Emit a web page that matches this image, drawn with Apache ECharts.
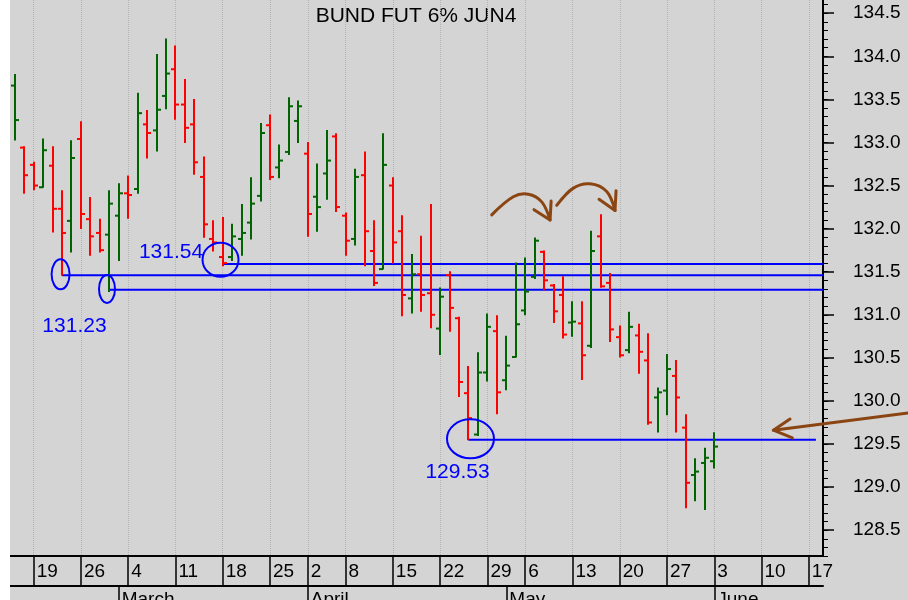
<!DOCTYPE html>
<html><head><meta charset="utf-8">
<script src="https://cdn.jsdelivr.net/npm/echarts@6/dist/echarts.min.js"></script>
<style>
html,body{margin:0;padding:0;background:#ffffff;width:908px;height:600px;overflow:hidden;}
#chart{position:absolute;left:10px;top:0;width:898px;height:600px;}
</style></head><body><div id="chart"></div>
<script>
// ---------- data ----------
const chartTitle = 'BUND FUT 6% JUN4';
const slotCount = 86; // trading-day slots on the x axis (bars fill the first 75)
const opens  = [133.66,132.94,132.74,132.48,132.73,132.23,132.09,133.04,132.11,131.95,131.93,132.15,132.41,132.46,133.21,133.14,133.54,133.85,133.44,133.21,132.60,131.88,131.67,131.67,131.88,132.07,132.38,133.20,132.71,132.89,133.25,132.87,132.37,132.64,133.07,132.15,131.88,132.62,131.74,131.53,132.50,131.97,131.19,131.47,131.25,130.84,131.46,130.96,130.09,129.61,130.33,130.81,130.24,130.51,131.05,131.44,131.73,131.34,131.23,130.91,130.90,130.64,131.91,131.37,130.74,130.59,130.76,130.47,130.04,130.12,130.29,129.69,129.14,129.28,129.30];
const highs  = [133.79,132.95,132.77,133.04,132.95,132.44,133.02,133.24,132.36,132.11,132.44,132.52,132.61,133.57,133.37,134.02,134.20,134.12,133.73,133.50,132.83,132.09,132.13,132.05,132.28,132.59,133.22,133.32,132.97,133.52,133.48,133.00,132.75,133.14,133.10,132.18,132.69,132.89,132.09,133.10,132.59,132.15,131.70,131.91,132.28,131.31,131.50,130.97,130.40,130.56,131.01,130.99,130.75,131.60,131.66,131.89,131.74,131.35,131.44,131.15,131.15,131.97,132.16,131.48,130.87,131.03,130.89,130.78,130.15,130.54,130.47,129.84,129.33,129.45,129.63];
const lows   = [133.03,132.41,132.45,132.48,131.96,131.46,131.73,132.00,131.69,131.73,131.27,131.63,132.12,132.41,132.82,132.90,133.39,133.27,133.00,132.63,131.90,131.74,131.57,131.63,131.69,131.88,132.32,132.57,132.59,132.86,133.00,131.91,131.97,132.34,132.20,131.69,131.81,131.57,131.34,131.53,131.60,130.99,131.02,131.04,130.85,130.54,130.81,130.05,129.55,129.60,130.23,129.85,130.13,130.51,131.00,131.42,131.29,130.91,130.73,130.75,130.25,130.62,131.32,130.69,130.51,130.56,130.32,129.73,129.64,129.84,129.64,128.76,128.84,128.74,129.22];
const closes = [133.26,132.62,132.50,132.91,132.23,131.95,132.82,132.17,131.91,131.75,132.29,132.41,132.39,133.34,133.11,133.38,133.80,133.44,133.17,132.77,132.05,131.84,131.60,131.91,131.95,132.29,133.11,132.60,132.79,133.42,133.42,132.17,132.25,132.79,132.25,131.86,132.60,131.97,131.37,132.74,131.84,131.23,131.47,131.23,131.00,131.21,131.08,130.22,129.80,130.33,130.86,130.10,130.41,130.89,131.27,131.86,131.40,131.04,130.77,130.92,130.53,131.74,131.33,130.83,130.53,130.86,130.57,129.75,130.10,130.37,130.04,129.05,129.18,129.34,129.47];

const weekLabels  = ['19','26','4','11','18','25','2','8','15','22','29','6','13','20','27','3','10','17'];
const weekSlots   = [2,7,12,17,22,27,31,35,40,45,50,54,59,64,69,74,79,84];
const monthLabels = ['March','April','May','June'];
const monthSlots  = [11,31,52,74];
const priceTicks  = [128.5,129.0,129.5,130.0,130.5,131.0,131.5,132.0,132.5,133.0,133.5,134.0,134.5];

// annotations (data space: slot index, price)
const levelStarts = [[5,131.46],[10,131.29],[22,131.59],[48,129.55]];
const levelEnds   = [85.5,85.5,85.5,84.75];
const circleCenters = [[4.85,131.47],[9.76,131.30],[21.77,131.64],[48.21,129.56]];
const noteTexts  = ['131.23','131.54','129.53'];
const notePoints = [[6.32,130.87],[16.53,131.73],[46.84,129.17]];
const arrowPaths = [
  [[50.46,132.16],[52.74,132.37],[54.33,132.40],[55.75,132.31],[56.63,132.10]],
  [[57.33,132.27],[59.09,132.47],[60.86,132.52],[62.62,132.43],[63.50,132.21]],
  [[94.50,129.86],[80.25,129.66]]
];
const arrowWings = [
  [[54.93,132.22],[56.74,132.32]],
  [[61.81,132.34],[63.61,132.44]],
  [[82.01,129.79],[82.26,129.57]]
];

// ---------- styles ----------
const FONT = '"Liberation Sans", Arial, sans-serif';
const UP = '#006400', DOWN = '#ff0000', BLUE = '#0000ff', BROWN = '#8b4513';
const circleRadii = [[9,15],[8,14],[18,17],[23.5,19.5]];

// ---------- build ----------
const cats = Array.from({length: slotCount}, (_, i) => 'd' + i);
const weekText = {}; weekSlots.forEach((s, k) => weekText[s] = weekLabels[k]);
const monthText = {}; monthSlots.forEach((s, k) => monthText[s] = monthLabels[k]);
const isWeek = (i) => weekText[i] !== undefined;
const isMonth = (i) => monthText[i] !== undefined;

const ohlc = opens.map((o, i) => [i, o, highs[i], lows[i], closes[i],
  (i === 0 || closes[i] >= closes[i - 1]) ? 1 : -1]);

const chart = echarts.init(document.getElementById('chart'), null, {renderer: 'canvas'});
const option = {
  animation: false,
  backgroundColor: '#d4d4d4',
  textStyle: {fontFamily: FONT},
  graphic: [{
    type: 'text', x: 406, y: 16,
    style: {text: chartTitle, fill: '#000', fontSize: 21, fontFamily: FONT, align: 'center', verticalAlign: 'middle'}
  }],
  grid: {left: 0, right: 85, top: -4, bottom: 44, containLabel: false, outerBoundsMode: 'none'},
  xAxis: [
    {type: 'value', min: -0.5, max: 85.5, show: false, axisLine: {onZero: false}},
    {type: 'category', data: cats, position: 'bottom', boundaryGap: true,
      axisLine: {show: true, onZero: false, lineStyle: {color: '#000', width: 2}},
      axisTick: {show: true, alignWithLabel: true, interval: (i) => isWeek(i), length: 30, lineStyle: {color: '#000', width: 1.5}},
      axisLabel: {show: true, interval: (i) => isWeek(i), formatter: (v, i) => weekText[i] || '',
        align: 'left', padding: [0, 0, 0, 3], margin: 6, color: '#000', fontSize: 19, fontFamily: FONT},
      splitLine: {show: true, alignWithLabel: true, interval: (i) => isWeek(i),
        lineStyle: {type: 'dotted', color: '#b4b4b4', width: 1}}
    },
    {type: 'category', data: cats, position: 'bottom', offset: 30, boundaryGap: true,
      axisLine: {show: true, onZero: false, lineStyle: {color: '#000', width: 2}},
      axisTick: {show: true, alignWithLabel: true, interval: (i) => isMonth(i), length: 14, lineStyle: {color: '#000', width: 1.5}},
      axisLabel: {show: true, interval: (i) => isMonth(i), formatter: (v, i) => monthText[i] || '',
        align: 'left', padding: [0, 0, 0, 3], margin: 4, color: '#000', fontSize: 19, fontFamily: FONT},
      splitLine: {show: false}
    }
  ],
  yAxis: [
    {type: 'value', position: 'right', min: 128.2, max: 134.7,
      axisLine: {show: true, onZero: false, lineStyle: {color: '#000', width: 2}},
      axisTick: {show: true, customValues: priceTicks, length: 11, lineStyle: {color: '#000', width: 1.5}},
      axisLabel: {show: true, customValues: priceTicks, formatter: (v) => v.toFixed(1), margin: 30,
        align: 'left', color: '#000', fontSize: 19, fontFamily: FONT},
      splitLine: {show: false}
    },
    {type: 'value', position: 'right', min: 128.2, max: 134.7, interval: 0.1,
      axisLine: {show: false, onZero: false},
      axisTick: {show: true, length: 5, lineStyle: {color: '#000', width: 1}},
      axisLabel: {show: false}, splitLine: {show: false}
    }
  ],
  series: [
    { // level lines
      type: 'custom', xAxisIndex: 0, yAxisIndex: 0, silent: true, clip: false,
      data: levelStarts.map((p, i) => [p[0], p[1], levelEnds[i]]),
      encode: {x: [0, 2], y: 1},
      renderItem: (params, api) => {
        const a = api.coord([api.value(0), api.value(1)]);
        const b = api.coord([api.value(2), api.value(1)]);
        return {type: 'line', shape: {x1: a[0], y1: a[1], x2: b[0], y2: b[1]},
          style: {stroke: BLUE, lineWidth: 2}};
      }
    },
    { // OHLC bars
      type: 'custom', xAxisIndex: 0, yAxisIndex: 0, silent: true,
      data: ohlc, encode: {x: 0, y: [1, 2, 3, 4]},
      renderItem: (params, api) => {
        const x = api.value(0);
        const pH = api.coord([x, api.value(2)]);
        const pL = api.coord([x, api.value(3)]);
        const pO = api.coord([x, api.value(1)]);
        const pC = api.coord([x, api.value(4)]);
        const col = api.value(5) > 0 ? UP : DOWN;
        const cx = Math.round(pH[0]);
        const st = {stroke: col, lineWidth: 2};
        return {type: 'group', children: [
          {type: 'line', shape: {x1: cx, y1: pH[1] - 0.5, x2: cx, y2: pL[1] + 0.5}, style: st},
          {type: 'line', shape: {x1: cx - 4, y1: pO[1], x2: cx, y2: pO[1]}, style: st},
          {type: 'line', shape: {x1: cx, y1: pC[1], x2: cx + 4, y2: pC[1]}, style: st}
        ]};
      }
    },
    { // circles
      type: 'custom', xAxisIndex: 0, yAxisIndex: 0, silent: true, clip: false,
      data: circleCenters, encode: {x: 0, y: 1},
      renderItem: (params, api) => {
        const c = api.coord([api.value(0), api.value(1)]);
        const r = circleRadii[params.dataIndex];
        return {type: 'ellipse', shape: {cx: c[0], cy: c[1], rx: r[0], ry: r[1]},
          style: {fill: 'none', stroke: BLUE, lineWidth: 2}};
      }
    },
    { // note texts
      type: 'custom', xAxisIndex: 0, yAxisIndex: 0, silent: true, clip: false,
      data: notePoints, encode: {x: 0, y: 1},
      renderItem: (params, api) => {
        const c = api.coord([api.value(0), api.value(1)]);
        return {type: 'text', x: c[0], y: c[1],
          style: {text: noteTexts[params.dataIndex], fill: BLUE, fontSize: 21, fontFamily: FONT,
            align: 'center', verticalAlign: 'middle'}};
      }
    },
    { // arrows
      type: 'custom', xAxisIndex: 0, yAxisIndex: 0, silent: true, clip: false,
      data: arrowPaths.map(p => p[p.length - 1]), encode: {x: 0, y: 1},
      renderItem: (params, api) => {
        const path = arrowPaths[params.dataIndex].map(p => api.coord(p));
        const wings = arrowWings[params.dataIndex].map(p => api.coord(p));
        const tip = path[path.length - 1];
        const st = {stroke: BROWN, lineWidth: 3, fill: 'none', lineCap: 'round', lineJoin: 'round'};
        return {type: 'group', children: [
          {type: 'polyline', shape: {points: path, smooth: path.length > 2 ? 0.35 : 0}, style: st},
          {type: 'polyline', shape: {points: [wings[0], tip, wings[1]]}, style: st}
        ]};
      }
    }
  ]
};
chart.setOption(option);
</script></body></html>
